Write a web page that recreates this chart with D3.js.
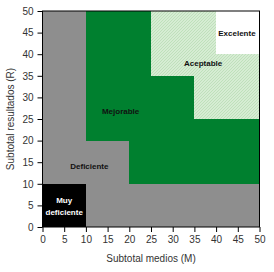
<!DOCTYPE html>
<html><head><meta charset="utf-8">
<script src="https://cdn.jsdelivr.net/npm/d3@7"></script>
<style>body{margin:0;background:#fff}svg{display:block}text{font-family:Arial,"Liberation Sans",sans-serif}</style>
</head><body><div id="c"></div>
<script>
const zoneNames = ["Deficiente","Mejorable","Aceptable","Excelente","Muy deficiente"];
const zonePolys = [
  [[0,0],[50,0],[50,50],[0,50]],
  [[10,20],[20,20],[20,10],[50,10],[50,50],[10,50]],
  [[25,35],[35,35],[35,25],[50,25],[50,50],[25,50]],
  [[40,40],[50,40],[50,50],[40,50]],
  [[0,0],[10,0],[10,10],[0,10]]
];
const zoneColors = ["#8e8e8e","#00802f","url(#hatch)","#ffffff","#000000"];
const labelLines = [["Deficiente"],["Mejorable"],["Aceptable"],["Excelente"],["Muy","deficiente"]];
const labelPos = [[10.8,14.2],[18,26.8],[37,38],[44.8,45],[5,5]];
const labelColors = ["#111","#111","#111","#111","#fff"];
const xTicks = [0,5,10,15,20,25,30,35,40,45,50];
const yTicks = [0,5,10,15,20,25,30,35,40,45,50];
const xTitle = "Subtotal medios (M)";
const yTitle = "Subtotal resultados (R)";

const W=274,H=272, L=42.5, R=259.5, T=11, B=227;
const svg=d3.select("#c").append("svg").attr("width",W).attr("height",H);
const defs=svg.append("defs");
const p=defs.append("pattern").attr("id","hatch").attr("patternUnits","userSpaceOnUse").attr("width",3).attr("height",3);
p.append("rect").attr("width",3).attr("height",3).attr("fill","#d6ecd3");
p.append("path").attr("d","M0,3L3,0M-1,1L1,-1M2,4L4,2").attr("stroke","#bfe0bb").attr("stroke-width",1);

const x=d3.scaleLinear().domain([0,50]).range([L,R]);
const y=d3.scaleLinear().domain([0,50]).range([B,T]);
const line=d3.line().x(d=>x(d[0])).y(d=>y(d[1]));
svg.selectAll("path.zone").data(zonePolys).join("path").attr("class","zone")
  .attr("d",d=>line(d)+"Z").attr("fill",(d,i)=>zoneColors[i]).attr("shape-rendering","crispEdges");

labelLines.forEach((lines,i)=>{
  const t=svg.append("text").attr("x",x(labelPos[i][0])).attr("y",y(labelPos[i][1]))
    .attr("text-anchor","middle").attr("font-size",8).attr("font-weight","bold").attr("fill",labelColors[i]);
  lines.forEach((s,j)=>t.append("tspan").attr("x",x(labelPos[i][0])).attr("dy",j===0?(lines.length>1?-2.5:3):12).text(s));
});

svg.append("rect").attr("x",L).attr("y",T).attr("width",R-L).attr("height",B-T).attr("fill","none").attr("stroke","#000").attr("stroke-width",1);

const xa=svg.append("g").attr("transform",`translate(0,${B})`).call(d3.axisBottom(x).tickValues(xTicks).tickSize(5).tickPadding(4));
const ya=svg.append("g").attr("transform",`translate(${L},0)`).call(d3.axisLeft(y).tickValues(yTicks).tickSize(5).tickPadding(4));
[xa,ya].forEach(a=>{a.select(".domain").remove();a.selectAll("line").attr("stroke","#000");a.selectAll("text").attr("font-size",10).attr("fill","#333").attr("font-family","Arial, 'Liberation Sans', sans-serif");});

svg.append("text").attr("x",(L+R)/2).attr("y",262).attr("text-anchor","middle").attr("font-size",10).attr("fill","#333").text(xTitle);
svg.append("text").attr("transform",`translate(10,${(T+B)/2}) rotate(-90)`).attr("text-anchor","middle").attr("dy","0.35em").attr("font-size",10).attr("fill","#333").text(yTitle);
</script></body></html>
